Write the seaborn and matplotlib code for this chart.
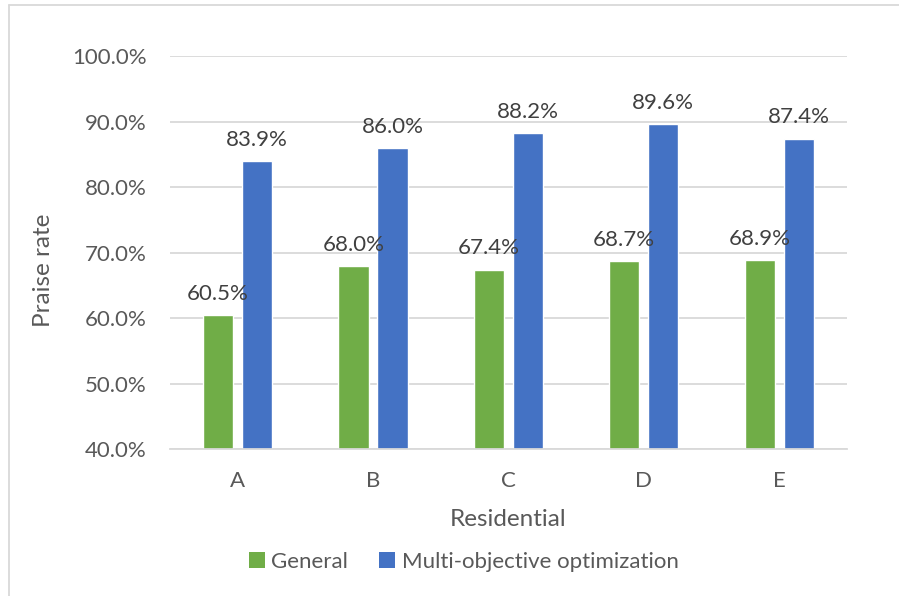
import numpy as np
import pandas as pd
import matplotlib.pyplot as plt
import seaborn as sns
from matplotlib.lines import Line2D
from matplotlib.patches import Patch
from matplotlib.ticker import PercentFormatter

residential = ["A", "B", "C", "D", "E"]
general     = [60.5, 68.0, 67.4, 68.7, 68.9]
multi_obj   = [83.9, 86.0, 88.2, 89.6, 87.4]
series      = ["General", "Multi-objective optimization"]
colors      = ["#70AD47", "#4472C4"]

df = pd.DataFrame({
    "Residential": residential * 2,
    "rate": general + multi_obj,
    "series": [series[0]] * 5 + [series[1]] * 5,
})

sns.set_style("white")
plt.rcParams["font.family"] = ["Lato", "DejaVu Sans"]

fig = plt.figure(figsize=(8.99, 5.96), dpi=100)
ax = fig.add_axes([0.189, 0.2466, 0.753, 0.6594])

sns.barplot(
    data=df, x="Residential", y="rate", hue="series",
    palette=colors, width=0.576, gap=0.23, saturation=1,
    legend=False, ax=ax,
)

for cont in ax.containers:
    ax.bar_label(cont, fmt="%.1f%%", padding=8, fontsize=16, color="#404040")

ax.set_ylim(40, 100)
ax.set_yticks(np.arange(40, 101, 10))
ax.yaxis.set_major_formatter(PercentFormatter(decimals=1))
ax.grid(axis="y", color="#D9D9D9", linewidth=1.3)
ax.set_axisbelow(True)
for s in ["top", "right", "left"]:
    ax.spines[s].set_visible(False)
ax.spines["bottom"].set_color("#D9D9D9")
ax.spines["bottom"].set_linewidth(1.3)
ax.tick_params(axis="both", length=0, labelsize=16, labelcolor="#595959")
ax.tick_params(axis="x", pad=16)
ax.tick_params(axis="y", pad=16.5)

ax.set_xlabel("Residential", fontsize=17.5, color="#595959", labelpad=13)
ax.set_ylabel("Praise rate", fontsize=17.5, color="#595959")
ax.yaxis.set_label_coords(-0.171, 0.455)

handles = [Patch(facecolor=c, edgecolor="none") for c in colors]
fig.legend(handles, series, loc="center", bbox_to_anchor=(0.516, 0.057),
           ncol=2, frameon=False, fontsize=16, labelcolor="#595959",
           handlelength=0.7, handleheight=0.7, handletextpad=0.3,
           columnspacing=1.4)

# chart frame edges
fig.add_artist(Line2D([9 / 899, 9 / 899], [0, 1 - 5 / 596], color="#D9D9D9", lw=1.3,
                      transform=fig.transFigure))
fig.add_artist(Line2D([9 / 899, 1], [1 - 5 / 596, 1 - 5 / 596], color="#D9D9D9", lw=1.3,
                      transform=fig.transFigure))

fig.savefig("out.png", dpi=100)
plt.close()
